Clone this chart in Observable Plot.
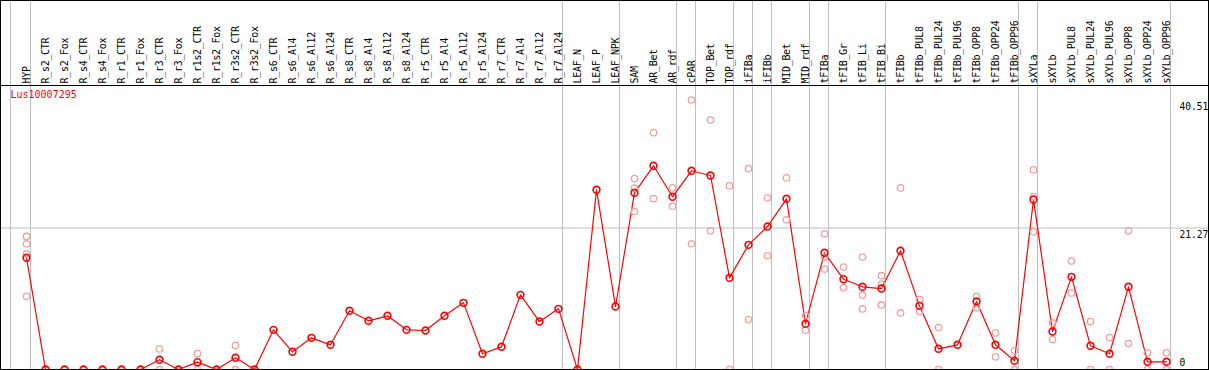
<!DOCTYPE html>
<html><head><meta charset="utf-8">
<script src="https://cdn.jsdelivr.net/npm/d3@7"></script>
<script src="https://cdn.jsdelivr.net/npm/@observablehq/plot@0.6"></script>
<style>
html,body{margin:0;padding:0;background:#fff;}
#chart{width:1207px;height:368px;border:1px solid #000;overflow:hidden;position:relative;background:#fff;}
#header{height:84px;border-bottom:1px solid #000;overflow:hidden;}
#main{height:283px;overflow:hidden;}
#chart svg{display:block;}
</style></head><body><div id="chart"><div id="header"></div><div id="main"></div></div>
<script>
const categories = ["HYP","R_s2_CTR","R_s2_Fox","R_s4_CTR","R_s4_Fox","R_r1_CTR","R_r1_Fox","R_r3_CTR","R_r3_Fox","R_r1s2_CTR","R_r1s2_Fox","R_r3s2_CTR","R_r3s2_Fox","R_s6_CTR","R_s6_Al4","R_s6_Al12","R_s6_Al24","R_s8_CTR","R_s8_Al4","R_s8_Al12","R_s8_Al24","R_r5_CTR","R_r5_Al4","R_r5_Al12","R_r5_Al24","R_r7_CTR","R_r7_Al4","R_r7_Al12","R_r7_Al24","LEAF_N","LEAF_P","LEAF_NPK","SAM","AR_Bet","AR_rdf","cPAR","TOP_Bet","TOP_rdf","iFIBa","iFIBb","MID_Bet","MID_rdf","tFIBa","tFIB_Gr","tFIB_Li","tFIB_Bi","tFIBb","tFIBb_PUL8","tFIBb_PUL24","tFIBb_PUL96","tFIBb_OPP8","tFIBb_OPP24","tFIBb_OPP96","sXYLa","sXYLb","sXYLb_PUL8","sXYLb_PUL24","sXYLb_PUL96","sXYLb_OPP8","sXYLb_OPP24","sXYLb_OPP96"];

const means = [16.8,0,0,0,0,0,0,1.46,0,1.1,0,1.76,0,5.96,2.66,4.76,3.71,8.82,7.32,8.07,5.96,5.86,8.07,10.02,2.36,3.41,11.22,7.21,9.12,0,27.01,9.47,26.56,30.62,25.96,29.87,29.16,13.78,18.74,21.49,25.66,6.87,17.54,13.57,12.43,12.17,17.84,9.57,3.11,3.71,10.22,3.71,1.31,25.55,5.71,13.93,3.56,2.36,12.43,1.16,1.16];

const replicates = [
  [20.0,18.9,17.4,11.0],[0,0],[0,0],[0,0],[0,0],[0,0],[0,0],[3.1,0],[0,0],[2.4,0],[0,0],[3.6,0],[0,0],
  [],[],[],[],[],[],[],[],[],[],[],[],[],[],[],[],[],[],[],
  [28.7,27.25,23.75],[35.6,25.7],[27.3,24.55],[40.51,18.9],[37.5,20.85],[27.6,0],[30.2,7.5],[25.8,17.1],[28.8,22.5],[8.1,5.9],
  [20.4,16.9,15.1],[15.4,12.3],[16.9,11.2,9.1],[14.1,12.8,9.7],[27.3,8.5],[10.5,8.7],[6.3,0],[],[11.0,9.3],[5.5,1.9],[2.8,0],
  [30.0,26.0,20.7],[7.0,4.5],[16.3,11.5],[7.2,0],[4.8,0],[20.85,3.9],[2.5,0],[2.5,0]
];

const yTickLabels = ["0","21.27","40.51"];
const yTicks = [0, 21.27, 40.51];
const gridValues = [21.27];
const yMax = 42.54;
const groupEnds = ["HYP","R_r7_Al24","LEAF_NPK","AR_rdf","cPAR","TOP_rdf","iFIBa","iFIBb","MID_rdf","tFIBa","tFIB_Bi","tFIBb_OPP96","sXYLa","sXYLb_OPP96"];
const titleText = "Lus10007295";

const meanRows = categories.map((c, i) => ({cat: c, v: means[i]}));
const repRows = categories.flatMap((c, i) => replicates[i].map(v => ({cat: c, v})));
const tickRows = yTicks.map((v, i) => ({v, label: yTickLabels[i]}));

const font = "DejaVu Sans Mono";
const grid = "#c0c0c0";
const xOpt = {type: "point", domain: categories, range: [25, 1165], padding: 0, axis: null};

const header = Plot.plot({
  width: 1207, height: 84, margin: 0,
  x: xOpt,
  style: {fontFamily: font, fontSize: "10px", letterSpacing: "-0.3px", background: "white", color: "black"},
  marks: [
    Plot.ruleX(groupEnds, {x: d => d, dx: 4, stroke: grid}),
    Plot.ruleX([categories[0]], {x: d => d, dx: -16, stroke: grid}),
    Plot.text(categories, {x: d => d, text: d => d, frameAnchor: "bottom", dx: 3.5, dy: -2, rotate: -90, textAnchor: "start", fill: "black"})
  ]
});
document.getElementById("header").appendChild(header);

const main = Plot.plot({
  width: 1207, height: 283, margin: 0,
  x: xOpt,
  y: {domain: [0, yMax], range: [283, 0], axis: null},
  style: {fontFamily: font, fontSize: "9.6px", background: "white", color: "black"},
  marks: [
    Plot.ruleX(groupEnds, {x: d => d, dx: 4, stroke: grid}),
    Plot.ruleX([categories[0]], {x: d => d, dx: -16, stroke: grid}),
    Plot.ruleY(gridValues, {y: d => d, stroke: grid}),
    Plot.line(meanRows, {x: "cat", y: "v", stroke: "red", strokeWidth: 1.2}),
    Plot.dot(repRows, {x: "cat", y: "v", r: 3.2, stroke: "#f0a0a0", strokeWidth: 1.3}),
    Plot.dot(meanRows, {x: "cat", y: "v", r: 3.4, stroke: "red", strokeWidth: 1.6}),
    Plot.text(tickRows.filter(d => d.v > 0), {y: "v", text: "label", frameAnchor: "right", dx: -29, textAnchor: "start", lineAnchor: "top", dy: 3, fill: "black"}),
    Plot.text(tickRows.filter(d => d.v === 0), {y: "v", text: "label", frameAnchor: "right", dx: -29, textAnchor: "start", lineAnchor: "bottom", dy: -4, fill: "black"}),
    Plot.text([titleText], {text: d => d, frameAnchor: "top-left", dx: 9, dy: 4, lineAnchor: "top", textAnchor: "start", fill: "red", fontSize: 10})
  ]
});
document.getElementById("main").appendChild(main);
</script></body></html>
